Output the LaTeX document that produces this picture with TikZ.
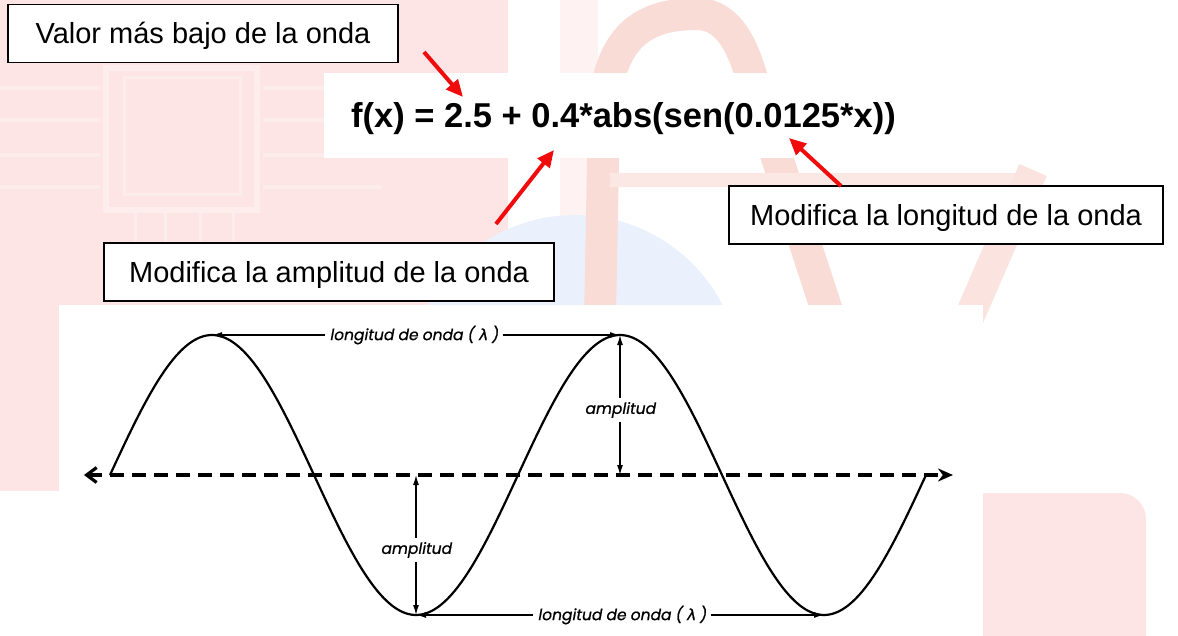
\documentclass[tikz,border=0pt]{standalone}
\usepackage{fontspec}
\setmainfont{Liberation Sans}
\newfontfamily\wavefont[FakeSlant=0.18,FakeBold=0.8]{Poppins}
\newfontfamily\greekfont[FakeSlant=0.18,FakeBold=0.8]{DejaVu Sans}
\usetikzlibrary{arrows.meta}
\definecolor{wmpink}{RGB}{253,229,229}
\definecolor{wmred}{RGB}{250,220,215}
\definecolor{wmblue}{RGB}{235,241,252}
\definecolor{arrred}{RGB}{240,12,12}

\begin{document}
\begin{tikzpicture}[x=1pt, y=-1pt,
  box/.style={draw, line width=1.5pt, fill=white, inner sep=0pt, minimum height=58pt,
    font=\fontsize{29}{34}\selectfont, text height=20.8pt, text depth=0pt},
  redarr/.style={-{Triangle[length=17pt,width=15pt]}, line width=4pt, arrred},
  dimarr/.style={-{Latex[length=10pt,width=6pt]}, line width=1.3pt},
  lbl/.style={font=\wavefont\fontsize{15.5}{18}\selectfont, inner sep=4pt}]
  \useasboundingbox (0,0) rectangle (1178,636);
  \fill[white] (0,0) rectangle (1178,636);
  % faded logo in the back
  \fill[wmpink] (0,0) rectangle (508,305);
  \fill[wmpink] (0,305) rectangle (59,491);
  \fill[wmpink] (983,636) |- (1120,493) arc[start angle=-90, end angle=0, radius=26] -- (1146,636) -- cycle;
  \draw[white!30!wmpink, line width=6pt] (106,68) rectangle (257,210);
  \draw[white!25!wmpink, line width=3pt] (124,78) rectangle (240,195);
  \foreach \y in {88,120,155,187} {
    \draw[white!25!wmpink, line width=4pt] (0,\y) -- (100,\y);
    \draw[white!25!wmpink, line width=4pt] (263,\y) -- (382,\y);
  }
  \foreach \x in {135,165,200,233}
    \draw[white!25!wmpink, line width=3pt] (\x,213) -- (\x,243);
  \fill[wmpink!50] (560,0) rectangle (598,305);
  \fill[wmblue] (575,381) circle (166);
  \draw[wmred, line width=32pt] (600,320) -- (604,110) .. controls (610,30) and (650,14) .. (697,14) .. controls (730,14) and (745,50) .. (755,90) -- (830,320);
  \draw[wmred!70, line width=14pt] (610,180) -- (1033,180);
  \draw[wmred!80, line width=30pt] (1033,170) -- (968,320);
  % white panels
  \fill[white] (324,73) rectangle (963,158);
  \fill[white] (59,305) rectangle (983,636);

  % formula and notes
  \node[font=\bfseries\fontsize{34.5}{40}\selectfont, anchor=base, inner sep=0pt] (formula) at (623.5,128) {f(x) = 2.5 + 0.4*abs(sen(0.0125*x))};
  \node[box, minimum width=390pt] (lowval) at (203,33.5) {Valor más bajo de la onda};
  \node[box, minimum width=450pt] (ampbox) at (329,272) {Modifica la amplitud de la onda};
  \node[box, minimum width=434pt] (lenbox) at (946,215) {Modifica la longitud de la onda};
  \coordinate (lowtail) at (424,52);  \coordinate (lowtip) at (463,97);
  \coordinate (amptail) at (496,224); \coordinate (amptip) at (554,150);
  \coordinate (lentail) at (841,186); \coordinate (lentip) at (789,138);
  \draw[redarr] (lowtail) -- (lowtip);
  \draw[redarr] (amptail) -- (amptip);
  \draw[redarr] (lentail) -- (lentip);

  % wave
  \coordinate (axl) at (84,475);  \coordinate (axr) at (953,475);
  \coordinate (peakA) at (212,335); \coordinate (peakB) at (620,335);
  \coordinate (troughA) at (416,615); \coordinate (troughB) at (824,615);
  \coordinate (zeroA) at (416,475); \coordinate (zeroB) at (620,475);
  \draw[line width=3.2pt, dash pattern=on 14pt off 8pt, {Straight Barb[length=10pt,width=15pt]}-{Stealth[length=15pt,width=13pt]}] (axl) -- (axr);
  \draw[line width=2.2pt] plot[domain=110:926, samples=150, smooth] (\x,{475-140*sin((\x-110)/408*360)});
  \node[lbl] (lamtop) at (414,335) {longitud de onda ( {\greekfont λ} )};
  \node[lbl] (lambot) at (622,615) {longitud de onda ( {\greekfont λ} )};
  \node[lbl] (amptop) at (620,410) {amplitud};
  \node[lbl] (ampbot) at (416,550) {amplitud};
  \draw[dimarr] (lamtop) -- (peakA);
  \draw[dimarr] (lamtop) -- (peakB);
  \draw[dimarr] (lambot) -- (troughA);
  \draw[dimarr] (lambot) -- (troughB);
  \draw[dimarr] (amptop) -- (peakB);
  \draw[dimarr] (amptop) -- (zeroB);
  \draw[dimarr] (ampbot) -- (zeroA);
  \draw[dimarr] (ampbot) -- (troughA);
\end{tikzpicture}
\end{document}
